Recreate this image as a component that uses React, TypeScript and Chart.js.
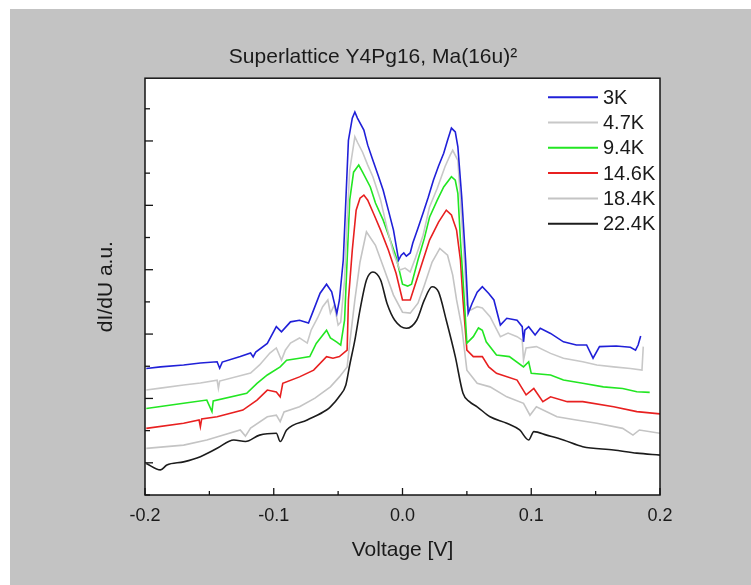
import React, { useEffect, useRef } from "react";
import { Chart, registerables } from "chart.js";

Chart.register(...registerables);

const chartTitle = "Superlattice Y4Pg16, Ma(16u)²";
const xAxisTitle = "Voltage [V]";
const yAxisTitle = "dI/dU a.u.";

const seriesLabels = ["3K", "4.7K", "9.4K", "14.6K", "18.4K", "22.4K"];
const seriesColors = ["#2020d8", "#c8c8c8", "#22e622", "#e82020", "#c4c4c4", "#1c1c1c"];

const xMin = -0.2;
const xMax = 0.2;
const xStep = 0.05;
const yMin = 0;
const yMax = 12.95;

const curve3K: [number, number][] = [
  [-0.199, 3.93], [-0.188, 3.98], [-0.17, 4.04], [-0.157, 4.1], [-0.144, 4.14], [-0.142, 3.94], [-0.14, 4.13],
  [-0.126, 4.3], [-0.118, 4.41], [-0.116, 4.29], [-0.114, 4.44], [-0.105, 4.71], [-0.098, 5.23], [-0.094, 5.07],
  [-0.087, 5.38], [-0.08, 5.43], [-0.073, 5.34], [-0.07, 5.65], [-0.064, 6.27], [-0.059, 6.55], [-0.055, 6.31],
  [-0.051, 5.64], [-0.049, 6.06], [-0.046, 7.3], [-0.044, 9.16], [-0.042, 11.02], [-0.039, 11.71], [-0.037, 11.9],
  [-0.035, 11.71], [-0.03, 11.34], [-0.027, 10.87], [-0.023, 10.4], [-0.019, 9.94], [-0.015, 9.47], [-0.011, 8.85],
  [-0.007, 8.23], [-0.003, 7.3], [-0.001, 7.45], [0.001, 7.52], [0.003, 7.42], [0.006, 7.52], [0.008, 7.83],
  [0.012, 8.29], [0.016, 8.76], [0.02, 9.25], [0.024, 9.78], [0.028, 10.22], [0.032, 10.62], [0.035, 11.02],
  [0.038, 11.4], [0.041, 11.28], [0.043, 10.82], [0.046, 9.26], [0.049, 7.3], [0.051, 5.64], [0.054, 5.95],
  [0.058, 6.3], [0.062, 6.47], [0.067, 6.26], [0.071, 6.06], [0.076, 5.28], [0.081, 5.49], [0.089, 5.43],
  [0.093, 5.23], [0.094, 4.76], [0.095, 5.12], [0.098, 5.23], [0.103, 4.97], [0.107, 5.18], [0.115, 5.02],
  [0.125, 4.76], [0.135, 4.66], [0.143, 4.66], [0.148, 4.25], [0.153, 4.61], [0.166, 4.63], [0.177, 4.59],
  [0.181, 4.5], [0.183, 4.66], [0.185, 4.94],
];

const curve4p7K: [number, number][] = [
  [-0.199, 3.26], [-0.188, 3.32], [-0.17, 3.42], [-0.157, 3.48], [-0.144, 3.57], [-0.143, 3.32], [-0.142, 3.54],
  [-0.118, 3.79], [-0.111, 4.04], [-0.103, 4.41], [-0.098, 4.57], [-0.094, 4.19], [-0.091, 4.5], [-0.087, 4.72],
  [-0.08, 4.88], [-0.074, 4.72], [-0.071, 5.12], [-0.066, 5.5], [-0.062, 5.85], [-0.058, 6.06], [-0.056, 5.65],
  [-0.053, 5.9], [-0.05, 5.28], [-0.048, 5.37], [-0.045, 6.68], [-0.043, 8.54], [-0.041, 10.09], [-0.038, 10.87],
  [-0.037, 11.13], [-0.035, 10.96], [-0.031, 10.65], [-0.027, 10.25], [-0.023, 9.89], [-0.017, 9.16], [-0.012, 8.29],
  [-0.007, 7.51], [-0.002, 6.99], [0.002, 7.05], [0.006, 6.93], [0.01, 7.36], [0.016, 8.07], [0.021, 8.95],
  [0.027, 9.53], [0.033, 10.2], [0.037, 10.56], [0.039, 10.71], [0.043, 10.4], [0.045, 9.16], [0.048, 7.3],
  [0.05, 5.9], [0.053, 5.75], [0.058, 5.85], [0.062, 5.81], [0.068, 5.54], [0.076, 4.92], [0.082, 5.03],
  [0.089, 4.92], [0.093, 4.81], [0.094, 4.19], [0.096, 4.57], [0.104, 4.61], [0.115, 4.4], [0.125, 4.25],
  [0.14, 4.14], [0.151, 4.04], [0.164, 3.98], [0.177, 3.93], [0.186, 3.88], [0.187, 4.61],
];

const curve9p4K: [number, number][] = [
  [-0.199, 2.69], [-0.17, 2.85], [-0.152, 2.95], [-0.148, 2.59], [-0.147, 2.92], [-0.121, 3.16], [-0.113, 3.47],
  [-0.105, 3.73], [-0.095, 3.98], [-0.09, 4.19], [-0.08, 4.25], [-0.072, 4.3], [-0.067, 4.71], [-0.059, 5.12],
  [-0.056, 4.88], [-0.051, 4.75], [-0.048, 4.66], [-0.045, 5.43], [-0.043, 7.3], [-0.041, 9.16], [-0.038, 10.03],
  [-0.034, 10.25], [-0.031, 10.03], [-0.025, 9.57], [-0.021, 9.07], [-0.015, 8.54], [-0.01, 7.98], [-0.005, 7.4],
  [0.0, 6.55], [0.004, 6.49], [0.007, 6.55], [0.012, 7.3], [0.017, 7.98], [0.021, 8.63], [0.027, 9.16],
  [0.032, 9.57], [0.038, 9.89], [0.041, 9.78], [0.043, 9.37], [0.045, 7.92], [0.048, 6.06], [0.05, 4.72],
  [0.055, 4.92], [0.059, 5.19], [0.062, 5.12], [0.065, 4.76], [0.073, 4.35], [0.083, 4.3], [0.094, 3.98],
  [0.098, 4.14], [0.1, 3.78], [0.115, 3.73], [0.125, 3.57], [0.14, 3.47], [0.156, 3.36], [0.171, 3.31],
  [0.182, 3.21], [0.192, 3.19],
];

const curve14p6K: [number, number][] = [
  [-0.199, 2.07], [-0.17, 2.23], [-0.158, 2.33], [-0.157, 2.12], [-0.156, 2.36], [-0.144, 2.43], [-0.124, 2.64],
  [-0.113, 2.95], [-0.105, 3.26], [-0.098, 3.2], [-0.095, 3.05], [-0.093, 3.47], [-0.08, 3.67], [-0.069, 3.88],
  [-0.059, 4.3], [-0.054, 4.25], [-0.049, 4.3], [-0.043, 4.5], [-0.042, 6.06], [-0.039, 7.61], [-0.036, 8.85],
  [-0.033, 9.22], [-0.03, 9.32], [-0.027, 9.16], [-0.022, 8.7], [-0.017, 8.23], [-0.011, 7.61], [-0.005, 6.89],
  [0.0, 6.06], [0.006, 6.06], [0.011, 6.68], [0.016, 7.3], [0.021, 7.92], [0.028, 8.48], [0.034, 8.85],
  [0.038, 8.7], [0.042, 8.23], [0.045, 7.3], [0.047, 6.06], [0.05, 4.5], [0.055, 4.3], [0.062, 4.3],
  [0.067, 3.98], [0.073, 3.78], [0.089, 3.57], [0.096, 3.11], [0.102, 3.31], [0.109, 2.9], [0.115, 3.05],
  [0.128, 2.9], [0.14, 2.9], [0.164, 2.74], [0.182, 2.59], [0.2, 2.52],
];

const curve18p4K: [number, number][] = [
  [-0.199, 1.45], [-0.17, 1.55], [-0.152, 1.71], [-0.126, 2.02], [-0.122, 1.83], [-0.118, 2.08], [-0.105, 2.43],
  [-0.098, 2.48], [-0.095, 2.28], [-0.092, 2.58], [-0.08, 2.74], [-0.068, 3.01], [-0.056, 3.36], [-0.049, 3.67],
  [-0.043, 3.98], [-0.041, 4.72], [-0.037, 6.06], [-0.033, 7.24], [-0.028, 8.18], [-0.021, 7.76], [-0.014, 6.99],
  [-0.007, 6.21], [0.0, 5.68], [0.006, 5.65], [0.012, 5.96], [0.017, 6.52], [0.023, 7.24], [0.029, 7.66],
  [0.035, 7.45], [0.039, 6.83], [0.042, 6.06], [0.046, 5.23], [0.05, 3.88], [0.058, 3.47], [0.068, 3.36],
  [0.081, 3.05], [0.094, 2.85], [0.099, 2.48], [0.104, 2.74], [0.12, 2.43], [0.135, 2.33], [0.151, 2.23],
  [0.171, 2.07], [0.179, 1.86], [0.184, 2.02], [0.2, 1.92],
];

const curve22p4K: [number, number][] = [
  [-0.199, 0.98], [-0.188, 0.78], [-0.183, 0.93], [-0.17, 1.03], [-0.157, 1.19], [-0.144, 1.45], [-0.131, 1.71],
  [-0.122, 1.66], [-0.111, 1.86], [-0.098, 1.92], [-0.095, 1.66], [-0.09, 2.02], [-0.074, 2.33], [-0.059, 2.64],
  [-0.056, 2.74], [-0.049, 3.07], [-0.044, 3.42], [-0.041, 4.04], [-0.037, 4.81], [-0.033, 5.75], [-0.028, 6.68],
  [-0.023, 6.93], [-0.017, 6.68], [-0.012, 5.95], [-0.006, 5.43], [0.003, 5.18], [0.011, 5.43], [0.017, 6.06],
  [0.023, 6.47], [0.028, 6.31], [0.034, 5.43], [0.041, 4.3], [0.047, 3.16], [0.052, 2.9], [0.058, 2.74],
  [0.068, 2.43], [0.081, 2.23], [0.091, 2.02], [0.098, 1.71], [0.102, 1.97], [0.112, 1.86], [0.125, 1.71],
  [0.14, 1.5], [0.164, 1.4], [0.182, 1.3], [0.2, 1.24],
];

const seriesData = [curve3K, curve4p7K, curve9p4K, curve14p6K, curve18p4K, curve22p4K];

const FONT = '"Liberation Sans", Arial, Helvetica, sans-serif';

const framePlugin = {
  id: "originFrame",
  beforeDraw(chart: any) {
    const { ctx, chartArea: a } = chart;
    ctx.save();
    ctx.fillStyle = "#ffffff";
    ctx.fillRect(a.left, a.top, a.right - a.left, a.bottom - a.top);
    ctx.restore();
  },
  afterDraw(chart: any) {
    const { ctx, chartArea: a, scales } = chart;
    ctx.save();
    ctx.strokeStyle = "#151515";
    ctx.lineWidth = 1.5;
    ctx.strokeRect(a.left, a.top, a.right - a.left, a.bottom - a.top);

    ctx.lineWidth = 1.3;
    const xs = scales.x;
    xs.ticks.forEach((t: any) => {
      const px = xs.getPixelForValue(t.value);
      const major = Math.abs(Math.round(t.value * 20)) % 2 === 0;
      const len = major ? 7 : 4;
      ctx.beginPath();
      ctx.moveTo(px, a.bottom);
      ctx.lineTo(px, a.bottom - len);
      ctx.stroke();
    });
    const ys = scales.y;
    ys.ticks.forEach((t: any) => {
      const v = Math.round(t.value);
      if (Math.abs(t.value - v) > 1e-6) return;
      const py = ys.getPixelForValue(t.value);
      const len = v % 2 === 1 ? 8 : 5;
      ctx.beginPath();
      ctx.moveTo(a.left, py);
      ctx.lineTo(a.left + len, py);
      ctx.stroke();
    });

    ctx.font = `20px ${FONT}`;
    ctx.textBaseline = "middle";
    ctx.textAlign = "left";
    chart.data.datasets.forEach((ds: any, i: number) => {
      const y = a.top + 19 + i * 25.3;
      ctx.strokeStyle = ds.borderColor;
      ctx.lineWidth = 2;
      ctx.beginPath();
      ctx.moveTo(a.right - 112, y);
      ctx.lineTo(a.right - 62, y);
      ctx.stroke();
      ctx.fillStyle = "#1a1a1a";
      ctx.fillText(ds.label, a.right - 57, y + 1);
    });
    ctx.restore();
  },
};

export default function App() {
  const ref = useRef<HTMLCanvasElement | null>(null);

  useEffect(() => {
    if (!ref.current) return;
    const datasets = seriesData.map((pts, i) => ({
      label: seriesLabels[i],
      data: pts.map(([x, y]) => ({ x, y })),
      borderColor: seriesColors[i],
      backgroundColor: seriesColors[i],
      borderWidth: 1.6,
      pointRadius: 0,
      tension: i === 5 ? 0.4 : 0,
      cubicInterpolationMode: i === 5 ? "monotone" : "default",
      fill: false,
    }));

    const chart = new Chart(ref.current, {
      type: "line",
      data: { datasets } as any,
      options: {
        responsive: false,
        animation: false,
        layout: { padding: { left: 76, right: 91, top: 18, bottom: 18 } },
        plugins: {
          legend: { display: false },
          tooltip: { enabled: false },
          title: {
            display: true,
            text: chartTitle,
            color: "#1a1a1a",
            font: { family: FONT, size: 21, weight: "normal" },
            padding: { top: 18, bottom: 8 },
          },
        },
        scales: {
          x: {
            type: "linear",
            min: xMin,
            max: xMax,
            grid: { display: false, drawTicks: false },
            border: { display: false },
            ticks: {
              stepSize: xStep,
              autoSkip: false,
              maxRotation: 0,
              padding: 10,
              color: "#1a1a1a",
              font: { family: FONT, size: 18 },
              callback: (v: any) => {
                const n = Number(v);
                if (Math.abs(Math.round(n * 20)) % 2 !== 0) return "";
                const r = Math.round(n * 10) / 10;
                return (r === 0 ? 0 : r).toFixed(1);
              },
            },
            title: {
              display: true,
              text: xAxisTitle,
              color: "#1a1a1a",
              font: { family: FONT, size: 21 },
              padding: { top: 0, bottom: 4 },
            },
            afterFit: (s: any) => {
              s.height = 72;
            },
          },
          y: {
            type: "linear",
            min: yMin,
            max: yMax,
            grid: { display: false, drawTicks: false },
            border: { display: false },
            ticks: { display: false, stepSize: 1, includeBounds: false },
            title: {
              display: true,
              text: yAxisTitle,
              color: "#1a1a1a",
              font: { family: FONT, size: 21 },
              padding: { top: 8, bottom: 0 },
            },
            afterFit: (s: any) => {
              s.width = 59;
            },
          },
        },
      } as any,
      plugins: [framePlugin],
    });
    return () => chart.destroy();
  }, []);

  return (
    <div
      style={{
        position: "fixed",
        left: 10,
        top: 9,
        width: 741,
        height: 576,
        background: "#c3c3c3",
      }}
    >
      <canvas ref={ref} width={741} height={576} style={{ display: "block" }} />
    </div>
  );
}
